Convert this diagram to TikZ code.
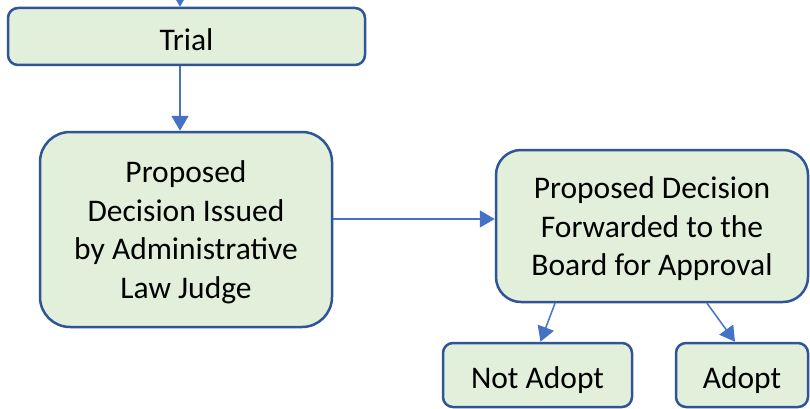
\documentclass[tikz,border=0pt]{standalone}
\usepackage{fontspec}
\setmainfont{Carlito}
\usetikzlibrary{arrows.meta}
\definecolor{boxfill}{HTML}{E2EFDA}
\definecolor{boxline}{HTML}{2F5597}
\definecolor{arrowc}{HTML}{4472C4}
\begin{document}
\begin{tikzpicture}[x=1pt,y=-1pt,
  box/.style={draw=boxline, fill=boxfill, line width=2.5pt, inner sep=0pt},
  txt/.style={align=center, inner sep=0pt, font=\fontsize{31.5}{38.5}\selectfont},
  conn/.style={draw=arrowc, line width=1.5pt, -{Triangle[length=15pt,width=17pt]}}]
\useasboundingbox (0,0) rectangle (810,409);
\node[box, rounded corners=10pt, minimum width=357pt, minimum height=57pt] (trial) at (186.5,36.5) {};
\node[txt] (trialtxt) at (186.5,40) {Trial};
\node[box, rounded corners=30pt, minimum width=292pt, minimum height=195pt] (prop) at (186,229.5) {};
\node[txt] (proptxt) at (186,232.5) {Proposed\\Decision Issued\\by Administrative\\Law Judge};
\node[box, rounded corners=25pt, minimum width=312pt, minimum height=152pt] (fwd) at (652,226) {};
\node[txt] (fwdtxt) at (652,229) {Proposed Decision\\Forwarded to the\\Board for Approval};
\node[box, rounded corners=10pt, minimum width=189pt, minimum height=64pt] (not) at (537.5,375) {};
\node[txt] (nottxt) at (537.5,380) {Not Adopt};
\node[box, rounded corners=10pt, minimum width=132pt, minimum height=64pt] (adopt) at (742,375) {};
\node[txt] (adopttxt) at (742,380) {Adopt};
\coordinate (top) at (180,-20);
\coordinate (hy) at (0,219);
\draw[conn] (top) -- (trial.north -| top);
\draw[conn] (trial.south -| 180,0) -- (prop.north -| 180,0);
\draw[conn] (prop.east |- hy) -- (fwd.west |- hy);
\draw[conn] ([xshift=-97pt]fwd.south) -- ([xshift=3pt]not.north);
\draw[conn] ([xshift=55pt]fwd.south) -- ([xshift=-7pt]adopt.north);
\end{tikzpicture}
\end{document}
